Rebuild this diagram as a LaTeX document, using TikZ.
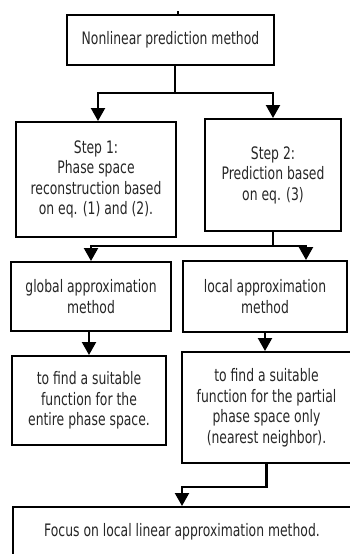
\documentclass[tikz,border=0pt]{standalone}
\usepackage{fontspec}
\setmainfont{DejaVu Sans}[FakeStretch=0.72]
\usetikzlibrary{arrows.meta}
\begin{document}
\begin{tikzpicture}[x=1pt,y=-1pt,
  box/.style={draw, line width=2pt, align=center, inner sep=0pt,
    font=\fontsize{17.2}{20.5}\selectfont, text=black!85},
  conn/.style={line width=2.2pt},
  arr/.style={conn, -{Triangle[width=14pt,length=13pt]}}]
\useasboundingbox (0,0) rectangle (349,554);
\node[box, minimum width=207pt, minimum height=50pt] (top) at (170.5,40) {Nonlinear prediction method};
\node[box, minimum width=160pt, minimum height=115pt] (s1) at (96,179.5) {Step 1:\\Phase space\\reconstruction based\\on eq. (1) and (2).};
\node[box, minimum width=136pt, minimum height=112pt] (s2) at (273,175) {Step 2:\\Prediction based\\on eq. (3)};
\node[box, minimum width=160pt, minimum height=69pt] (glob) at (91,296.5) {global approximation\\method};
\node[box, minimum width=164pt, minimum height=71pt] (loc) at (265,296.5) {local approximation\\method};
\node[box, minimum width=154pt, minimum height=89pt] (lb) at (89,400.5) {to find a suitable\\function for the\\entire phase space.};
\node[box, minimum width=169pt, minimum height=111pt] (rb) at (266.5,407.5) {to find a suitable\\function for the partial\\phase space only\\(nearest neighbor).};
\node[box, minimum width=338pt, minimum height=49pt] (fin) at (182,531.5) {Focus on local linear approximation method.};
\coordinate (tk) at (178,11);
\coordinate (j1) at (175,93);
\coordinate (j2) at (273,246);
\coordinate (j3) at (182,487);
\draw[conn] (tk) -- (tk |- top.north);
\draw[conn] (top.south -| j1) -- (j1);
\draw[arr] (j1) -| ([xshift=2pt]s1.north);
\draw[arr] (j1) -| (s2.north);
\draw[conn] (s2.south) -- (j2);
\draw[arr] (j2) -| (glob.north);
\draw[arr] (j2) -| ([xshift=41pt]loc.north);
\draw[arr] (glob.south -| lb.north) -- (lb.north);
\draw[arr] (loc.south) -- (loc.south |- rb.north);
\draw[arr] (rb.south) |- (j3) -- (fin.north);
\end{tikzpicture}
\end{document}
